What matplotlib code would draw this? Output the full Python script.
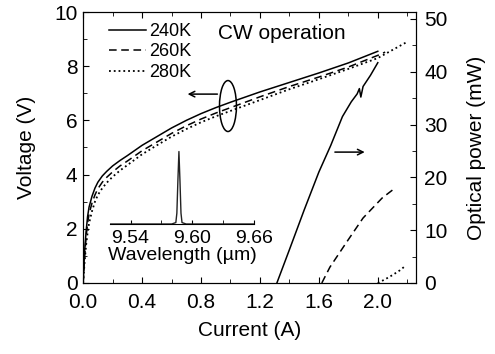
import numpy as np
import matplotlib.pyplot as plt
from matplotlib.patches import Ellipse
from matplotlib.ticker import MultipleLocator

plt.rcParams['font.family'] = ['Liberation Sans', 'DejaVu Sans']

# voltage vs current (left axis)
i_240 = [0, 0.005, 0.01, 0.02, 0.03, 0.04, 0.06, 0.08, 0.1, 0.13, 0.16, 0.2, 0.25, 0.3,
         0.4, 0.5, 0.6, 0.7, 0.8, 0.9, 1.0, 1.2, 1.4, 1.6, 1.8, 2.0]
v_240 = [0, 0.6, 1.2, 1.9, 2.45, 2.8, 3.2, 3.5, 3.72, 3.95, 4.12, 4.32, 4.52, 4.7,
         5.08, 5.4, 5.72, 6.0, 6.25, 6.47, 6.67, 7.05, 7.4, 7.75, 8.12, 8.55]
i_260 = [0, 0.005, 0.01, 0.02, 0.03, 0.04, 0.06, 0.08, 0.1, 0.13, 0.16, 0.2, 0.25, 0.3,
         0.4, 0.5, 0.6, 0.7, 0.8, 0.9, 1.0, 1.2, 1.4, 1.6, 1.8, 2.0, 2.05]
v_260 = [0, 0.5, 1.0, 1.7, 2.2, 2.55, 2.95, 3.25, 3.48, 3.72, 3.9, 4.1, 4.32, 4.5,
         4.88, 5.2, 5.52, 5.8, 6.05, 6.27, 6.47, 6.87, 7.25, 7.6, 7.97, 8.4, 8.52]
i_280 = [0, 0.005, 0.01, 0.02, 0.03, 0.04, 0.06, 0.08, 0.1, 0.13, 0.16, 0.2, 0.25, 0.3,
         0.4, 0.5, 0.6, 0.7, 0.8, 0.9, 1.0, 1.2, 1.4, 1.6, 1.8, 2.0, 2.1, 2.2]
v_280 = [0, 0.4, 0.8, 1.4, 1.85, 2.2, 2.65, 3.0, 3.25, 3.5, 3.7, 3.92, 4.15, 4.35,
         4.75, 5.08, 5.4, 5.68, 5.93, 6.15, 6.35, 6.75, 7.15, 7.52, 7.9, 8.3, 8.6, 8.9]

# optical power vs current (right axis)
pi_240 = [1.315, 1.4, 1.5, 1.6, 1.68, 1.76, 1.82, 1.86, 1.875, 1.885, 1.9, 1.95, 2.0]
p_240 = [0, 6.3, 13.8, 21.0, 26.0, 31.5, 34.3, 35.8, 36.8, 35.2, 37.2, 39.3, 41.7]
pi_260 = [1.62, 1.675, 1.79, 1.90, 2.03, 2.10]
p_260 = [0, 3.0, 7.8, 12.3, 16.1, 17.6]
pi_280 = [2.0, 2.05, 2.1, 2.15, 2.19]
p_280 = [0, 0.7, 1.5, 2.4, 3.3]

# inset spectrum
wl = [9.52, 9.580, 9.584, 9.585, 9.586, 9.587, 9.588, 9.589, 9.590, 9.594, 9.66]
inten = [0, 0, 0.02, 0.15, 0.6, 1.0, 0.6, 0.15, 0.02, 0, 0]

labels = ['240K', '260K', '280K']

fs = 15

fig = plt.figure(figsize=(4.95, 3.54), dpi=100)
ax = fig.add_axes([0.168, 0.2006, 0.672, 0.7655])
ax2 = ax.twinx()

lw = 1.1
ax.plot(i_240, v_240, 'k-', lw=lw, label=labels[0])
ax.plot(i_260, v_260, 'k--', lw=lw, dashes=(5, 3), label=labels[1])
ax.plot(i_280, v_280, 'k:', lw=lw + 0.2, label=labels[2])

ax2.plot(pi_240, p_240, 'k-', lw=lw)
ax2.plot(pi_260, p_260, 'k--', lw=lw, dashes=(5, 3))
ax2.plot(pi_280, p_280, 'k:', lw=lw + 0.2)

ax.set_xlim(0, 2.258)
ax.set_ylim(0, 10)
ax2.set_ylim(0, 51.3)

ax.xaxis.set_major_locator(MultipleLocator(0.4))
ax.xaxis.set_minor_locator(MultipleLocator(0.2))
ax.yaxis.set_major_locator(MultipleLocator(2))
ax.yaxis.set_minor_locator(MultipleLocator(1))
ax2.yaxis.set_major_locator(MultipleLocator(10))
ax2.yaxis.set_minor_locator(MultipleLocator(5))

ax.tick_params(axis='x', which='both', direction='in', top=True, labelsize=fs, pad=7)
ax.tick_params(axis='y', which='both', direction='in', labelsize=fs, pad=4)
ax2.tick_params(axis='y', which='both', direction='in', labelsize=fs, pad=6)
for a in (ax, ax2):
    a.tick_params(which='major', length=4)
    a.tick_params(which='minor', length=3)
ax.xaxis.set_major_formatter(plt.FormatStrFormatter('%.1f'))

ax.set_xlabel('Current (A)', fontsize=fs, labelpad=7)
ax.set_ylabel('Voltage (V)', fontsize=fs, labelpad=13)
ax2.set_ylabel('Optical power (mW)', fontsize=fs, labelpad=14)

ax.legend(loc='upper left', frameon=False, fontsize=13, handlelength=2.0,
          handletextpad=0.2, labelspacing=0.2, bbox_to_anchor=(0.03, 1.02))

ax.text(0.915, 9.2, 'CW operation', fontsize=fs, ha='left', va='center')

ax.add_patch(Ellipse((0.983, 6.53), 0.115, 1.88, fill=False, ec='k', lw=1.1))
ax.annotate('', xy=(0.69, 6.97), xytext=(0.93, 6.97),
            arrowprops=dict(arrowstyle='->', color='k', lw=1.1))
ax.annotate('', xy=(1.93, 4.83), xytext=(1.69, 4.83),
            arrowprops=dict(arrowstyle='->', color='k', lw=1.1))

# inset
ins = fig.add_axes([0.2222, 0.3672, 0.291, 0.215])
ins.patch.set_alpha(0)
ins.plot(wl, inten, color='#222222', lw=1.0)
ins.set_xlim(9.52, 9.66)
ins.set_ylim(0, 1.05)
for s in ('top', 'left', 'right'):
    ins.spines[s].set_visible(False)
ins.set_yticks([])
ins.xaxis.set_minor_locator(MultipleLocator(0.03))
ins.set_xticks([9.54, 9.60, 9.66])
ins.xaxis.set_major_formatter(plt.FormatStrFormatter('%.2f'))
ins.tick_params(axis='x', which='both', direction='in', labelsize=14, pad=4)
ins.tick_params(which='both', length=3)
ins.set_xlabel('Wavelength (\u00b5m)', fontsize=14, labelpad=0)

fig.savefig('out.png', dpi=100)
